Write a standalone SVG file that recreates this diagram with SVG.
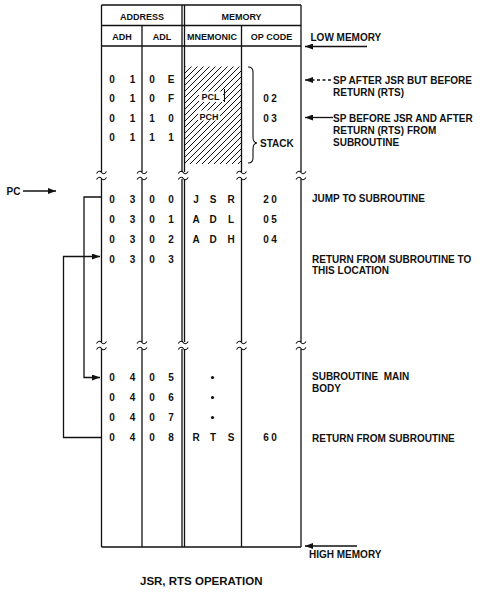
<svg xmlns="http://www.w3.org/2000/svg" xmlns:xlink="http://www.w3.org/1999/xlink" width="480" height="593" viewBox="0 0 480 593">
<style>
.t{font-family:"Liberation Sans",Arial,sans-serif;font-weight:bold;font-size:10px;fill:#111}
.h{font-size:9px}
.m{text-anchor:middle}
.ln{stroke:#111;stroke-width:1.3;fill:none}
.thin{stroke:#111;stroke-width:1.1;fill:none}
</style>
<defs>
<marker id="ah" viewBox="0 0 8 6" refX="8" refY="3" markerWidth="8" markerHeight="6" markerUnits="userSpaceOnUse" orient="auto">
<path d="M0,0 L8,3 L0,6 z" fill="#111"/>
</marker>
<pattern id="hatch" patternUnits="userSpaceOnUse" width="6" height="6">
<path d="M-1,1 L1,-1 M0,6 L6,0 M5,7 L7,5" stroke="#111" stroke-width="1"/>
</pattern>
<g id="brk">
<rect x="-7" y="0" width="14" height="7" fill="#fff"/>
<path d="M-5,1.5 C-3,-1.5 -1,-1 0,0.5 S3,2.5 5,-0.5 M-5,7.5 C-3,4.5 -1,5 0,6.5 S3,8.5 5,5.5" stroke="#111" stroke-width="1.1" fill="none"/>
</g>
</defs>
<rect width="480" height="593" fill="#fff"/>

<g id="table">
<path class="ln" d="M101.5,5 H301 M101.5,25.5 H301 M101.5,46 H301 M101.5,547 H301"/>
<path class="ln" d="M101.5,5 V547 M142,25.5 V547 M182,5 V547 M184.5,5 V547 M241.5,25.5 V547 M301,5 V547"/>
<text class="t h m" x="142" y="20">ADDRESS</text>
<text class="t h m" x="241.5" y="20">MEMORY</text>
<text class="t h m" x="122" y="40">ADH</text>
<text class="t h m" x="162" y="40">ADL</text>
<text class="t h m" x="212" y="40">MNEMONIC</text>
<text class="t h m" x="271.5" y="40">OP CODE</text>
</g>

<g id="breaks">
<use xlink:href="#brk" x="101.5" y="172"/>
<use xlink:href="#brk" x="142" y="172"/>
<use xlink:href="#brk" x="183.25" y="172"/>
<use xlink:href="#brk" x="241.5" y="172"/>
<use xlink:href="#brk" x="301" y="172"/>
<use xlink:href="#brk" x="101.5" y="342"/>
<use xlink:href="#brk" x="142" y="342"/>
<use xlink:href="#brk" x="183.25" y="342"/>
<use xlink:href="#brk" x="241.5" y="342"/>
<use xlink:href="#brk" x="301" y="342"/>
</g>

<g id="stack">
<rect x="185" y="66.5" width="56.5" height="97.5" fill="url(#hatch)"/>
<rect x="199" y="91.5" width="24" height="10.5" fill="#fff"/>
<rect x="198" y="110.5" width="22" height="10" fill="#fff"/>
<line class="thin" x1="224.5" y1="89" x2="224.5" y2="102"/>
<text class="t h m" x="210.5" y="100">PCL</text>
<text class="t h m" x="209" y="119.5">PCH</text>
<path class="thin" d="M248,67 Q253,67 253,72 V137 Q253,142.5 257,143 Q253,143.5 253,149 V158 Q253,163 248,163"/>
<text class="t" x="260" y="146.5">STACK</text>
</g>

<g id="row-010E"><text class="t m" x="112 132.5 152 171" y="82.5">010E</text></g>
<g id="row-010F"><text class="t m" x="112 132.5 152 171" y="102">010F</text><text class="t m" x="266 274" y="102">02</text></g>
<g id="row-0110"><text class="t m" x="112 132.5 152 171" y="121.5">0110</text><text class="t m" x="266 274" y="121.5">03</text></g>
<g id="row-0111"><text class="t m" x="112 132.5 152 171" y="141">0111</text></g>

<g id="row-0300"><text class="t m" x="112 132.5 152 171" y="202.5">0300</text><text class="t m" x="196 213 231" y="202.5">JSR</text><text class="t m" x="266 274" y="202.5">20</text></g>
<g id="row-0301"><text class="t m" x="112 132.5 152 171" y="222.5">0301</text><text class="t m" x="196 213 231" y="222.5">ADL</text><text class="t m" x="266 274" y="222.5">05</text></g>
<g id="row-0302"><text class="t m" x="112 132.5 152 171" y="242.5">0302</text><text class="t m" x="196 213 231" y="242.5">ADH</text><text class="t m" x="266 274" y="242.5">04</text></g>
<g id="row-0303"><text class="t m" x="112 132.5 152 171" y="262.5">0303</text></g>

<g id="row-0405"><text class="t m" x="112 132.5 152 171" y="381">0405</text><circle cx="212.5" cy="377.5" r="1.6" fill="#111"/></g>
<g id="row-0406"><text class="t m" x="112 132.5 152 171" y="401">0406</text><circle cx="212.5" cy="397.5" r="1.6" fill="#111"/></g>
<g id="row-0407"><text class="t m" x="112 132.5 152 171" y="421">0407</text><circle cx="212.5" cy="417.5" r="1.6" fill="#111"/></g>
<g id="row-0408"><text class="t m" x="112 132.5 152 171" y="441">0408</text><text class="t m" x="196 213 231" y="441">RTS</text><text class="t m" x="266 274" y="441">60</text></g>

<g id="labels">
<text class="t" x="310.5" y="41">LOW MEMORY</text>
<text class="t" x="333" y="84">SP AFTER JSR BUT BEFORE</text>
<text class="t" x="333" y="96">RETURN (RTS)</text>
<text class="t" x="333" y="121.5">SP BEFORE JSR AND AFTER</text>
<text class="t" x="333" y="133.5">RETURN (RTS) FROM</text>
<text class="t" x="333" y="145.5">SUBROUTINE</text>
<text class="t" x="312" y="202">JUMP TO SUBROUTINE</text>
<text class="t" x="312" y="262.5">RETURN FROM SUBROUTINE TO</text>
<text class="t" x="312" y="274">THIS LOCATION</text>
<text class="t" x="312" y="380" xml:space="preserve">SUBROUTINE  MAIN</text>
<text class="t" x="312" y="391.5">BODY</text>
<text class="t" x="312" y="442">RETURN FROM SUBROUTINE</text>
<text class="t" x="309" y="558">HIGH MEMORY</text>
<text class="t" x="6.5" y="195">PC</text>
<text class="t" x="140" y="585" style="font-size:11.5px">JSR, RTS OPERATION</text>
</g>

<g id="connectors">
<line class="ln" x1="367" y1="46.5" x2="305" y2="46.5" marker-end="url(#ah)"/>
<line class="ln" x1="331" y1="80" x2="312" y2="80" stroke-dasharray="3,2.5"/>
<line class="ln" x1="312" y1="80" x2="305" y2="80" marker-end="url(#ah)"/>
<line class="ln" x1="333" y1="117.5" x2="305" y2="117.5" marker-end="url(#ah)"/>
<line class="ln" x1="357" y1="546" x2="305" y2="546" marker-end="url(#ah)"/>
<line class="ln" x1="23" y1="191" x2="56" y2="191" marker-end="url(#ah)"/>
<path class="ln" d="M101.5,197 H84 V377.5 H100" marker-end="url(#ah)"/>
<path class="ln" d="M101.5,437.5 H63.5 V256.5 H100" marker-end="url(#ah)"/>
</g>
</svg>
